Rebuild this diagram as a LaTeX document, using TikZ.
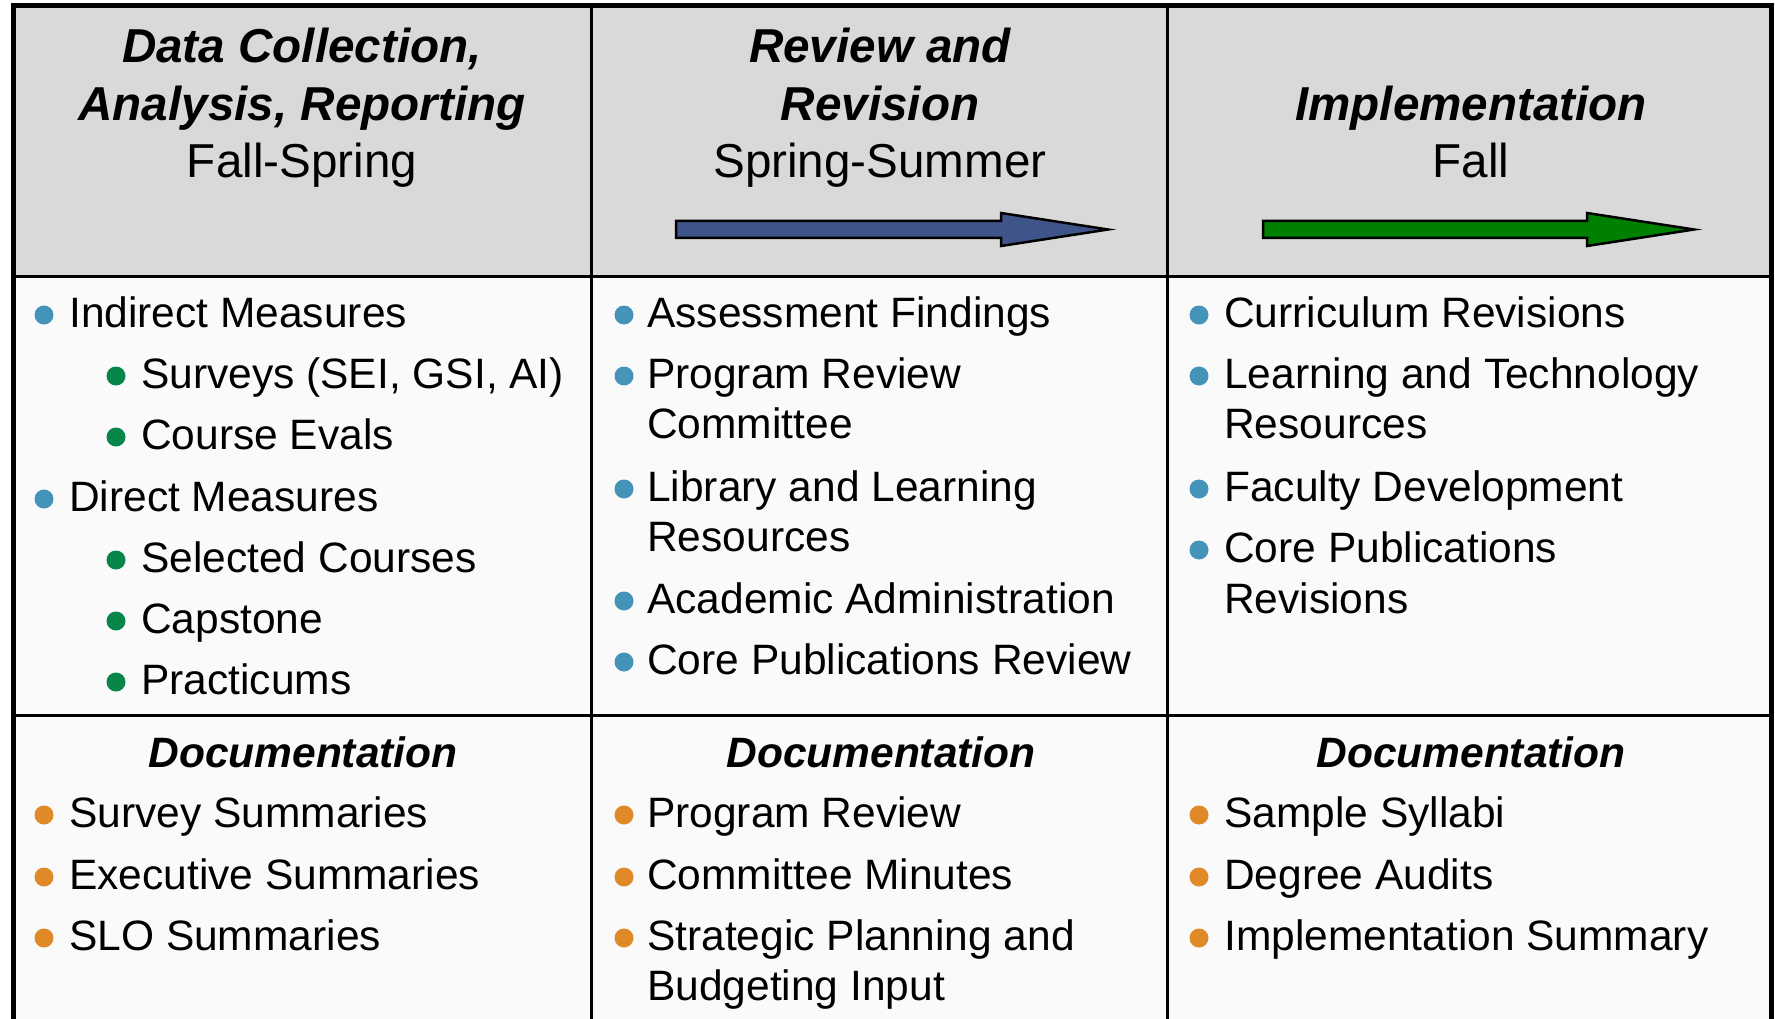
\documentclass[tikz,border=0pt]{standalone}
\usepackage{fontspec}
\setmainfont{Liberation Sans}
\definecolor{hdrgray}{RGB}{217,217,217}
\definecolor{arrblue}{RGB}{63,85,137}
\definecolor{arrgreen}{RGB}{0,128,0}
\definecolor{bblue}{RGB}{68,147,185}
\definecolor{bgreen}{RGB}{8,133,72}
\definecolor{borange}{RGB}{224,137,40}
\definecolor{cellbg}{RGB}{250,250,250}
\begin{document}
\begin{tikzpicture}[x=1pt,y=-1pt,
  hdr/.style={anchor=base, inner sep=0pt, font=\fontsize{47.6}{56}\selectfont\bfseries\itshape},
  hdrsub/.style={anchor=base, inner sep=0pt, font=\fontsize{47.6}{56}\selectfont},
  dochdr/.style={anchor=base, inner sep=0pt, font=\fontsize{42.5}{50}\selectfont\bfseries\itshape},
  itm/.style={anchor=base west, inner sep=0pt, font=\fontsize{42.5}{50}\selectfont},
  dot/.style={circle, inner sep=0pt, minimum size=19pt, draw=none},
  dotA/.style={dot, fill=bblue},
  dotB/.style={dot, fill=bgreen},
  dotC/.style={dot, fill=borange},
  gridline/.style={line width=3pt, draw=black},
  frameline/.style={line width=5pt, draw=black},
  arrowshape/.style={draw=black, line width=2.5pt, line join=miter}
]
\useasboundingbox (0,0) rectangle (1775,1019);
\fill[white] (0,0) rectangle (1775,1019);
% cell fills
\fill[hdrgray] (13,6) rectangle (1771,276);
\fill[cellbg] (13,276) rectangle (1771,1019);

% arrows
\draw[arrowshape, fill=arrblue] (676,221) -- (1001,221) -- (1001,213) -- (1108,229.5) -- (1001,246) -- (1001,238) -- (676,238) -- cycle;
\draw[arrowshape, fill=arrgreen] (1263,221) -- (1587,221) -- (1587,213) -- (1694,229.5) -- (1587,246) -- (1587,238) -- (1263,238) -- cycle;

% grid lines
\draw[gridline] (13,276) -- (1771,276);
\draw[gridline] (13,715) -- (1771,715);
\draw[gridline] (591,6) -- (591,1019);
\draw[gridline] (1167,6) -- (1167,1019);
\draw[frameline] (13,1019) -- (13,6) -- (1771,6) -- (1771,1019);

% headers
\node[hdr] (h1a) at (302,63) {Data Collection,};
\node[hdr] (h1b) at (302,121) {Analysis, Reporting};
\node[hdrsub] (h1c) at (302,178) {Fall-Spring};
\node[hdr] (h2a) at (880,63) {Review and};
\node[hdr] (h2b) at (880,121) {Revision};
\node[hdrsub] (h2c) at (880,178) {Spring-Summer};
\node[hdr] (h3a) at (1471,121) {Implementation};
\node[hdrsub] (h3b) at (1471,178) {Fall};

% column 1 body
\node[dotA] (d11) at (44,315) {};
\node[itm] (t11) at (69,327) {Indirect Measures};
\node[dotB] (d12) at (116,376) {};
\node[itm] (t12) at (141,388) {Surveys (SEI, GSI, AI)};
\node[dotB] (d13) at (116,437) {};
\node[itm] (t13) at (141,449) {Course Evals};
\node[dotA] (d14) at (44,499) {};
\node[itm] (t14) at (69,511) {Direct Measures};
\node[dotB] (d15) at (116,560) {};
\node[itm] (t15) at (141,572) {Selected Courses};
\node[dotB] (d16) at (116,621) {};
\node[itm] (t16) at (141,633) {Capstone};
\node[dotB] (d17) at (116,682) {};
\node[itm] (t17) at (141,694) {Practicums};

% column 2 body
\node[dotA] (d21) at (624,315) {};
\node[itm] (t21) at (647,327) {Assessment Findings};
\node[dotA] (d22) at (624,376) {};
\node[itm] (t22) at (647,388) {Program Review};
\node[itm] (t22b) at (647,438) {Committee};
\node[dotA] (d23) at (624,489) {};
\node[itm] (t23) at (647,501) {Library and Learning};
\node[itm] (t23b) at (647,551) {Resources};
\node[dotA] (d24) at (624,601) {};
\node[itm] (t24) at (647,613) {Academic Administration};
\node[dotA] (d25) at (624,662) {};
\node[itm] (t25) at (647,674) {Core Publications Review};

% column 3 body
\node[dotA] (d31) at (1199,315) {};
\node[itm] (t31) at (1224,327) {Curriculum Revisions};
\node[dotA] (d32) at (1199,376) {};
\node[itm] (t32) at (1224,388) {Learning and Technology};
\node[itm] (t32b) at (1224,438) {Resources};
\node[dotA] (d33) at (1199,489) {};
\node[itm] (t33) at (1224,501) {Faculty Development};
\node[dotA] (d34) at (1199,550) {};
\node[itm] (t34) at (1224,562) {Core Publications};
\node[itm] (t34b) at (1224,613) {Revisions};

% documentation row
\node[dochdr] (doc1) at (303,767) {Documentation};
\node[dochdr] (doc2) at (881,767) {Documentation};
\node[dochdr] (doc3) at (1471,767) {Documentation};

\node[dotC] (e11) at (44,815) {};
\node[itm] (u11) at (69,827) {Survey Summaries};
\node[dotC] (e12) at (44,877) {};
\node[itm] (u12) at (69,889) {Executive Summaries};
\node[dotC] (e13) at (44,938) {};
\node[itm] (u13) at (69,950) {SLO Summaries};

\node[dotC] (e21) at (624,815) {};
\node[itm] (u21) at (647,827) {Program Review};
\node[dotC] (e22) at (624,877) {};
\node[itm] (u22) at (647,889) {Committee Minutes};
\node[dotC] (e23) at (624,938) {};
\node[itm] (u23) at (647,950) {Strategic Planning and};
\node[itm] (u23b) at (647,1000) {Budgeting Input};

\node[dotC] (e31) at (1199,815) {};
\node[itm] (u31) at (1224,827) {Sample Syllabi};
\node[dotC] (e32) at (1199,877) {};
\node[itm] (u32) at (1224,889) {Degree Audits};
\node[dotC] (e33) at (1199,938) {};
\node[itm] (u33) at (1224,950) {Implementation Summary};
\end{tikzpicture}
\end{document}
